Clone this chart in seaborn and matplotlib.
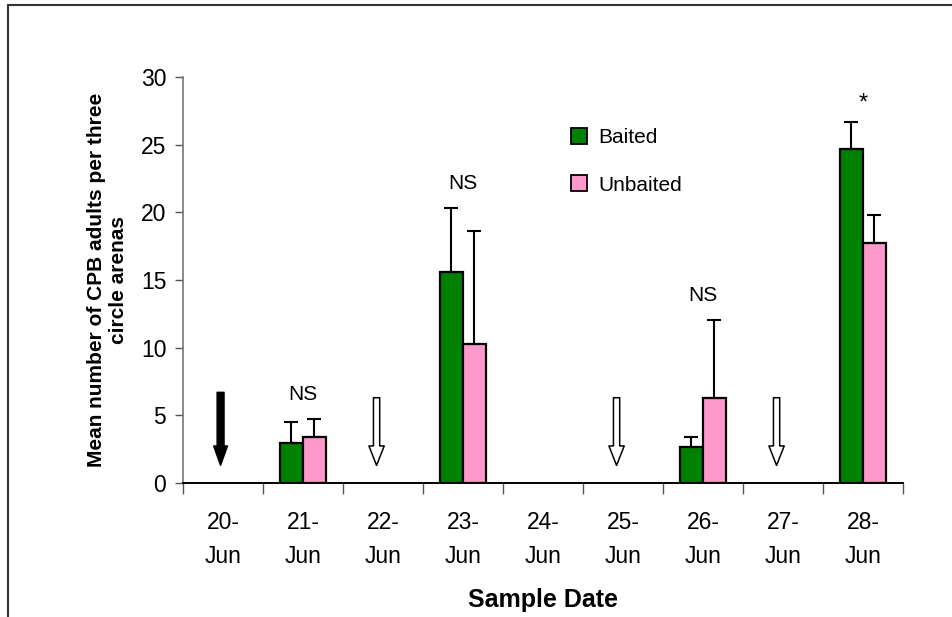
import matplotlib
matplotlib.use("Agg")
import matplotlib.pyplot as plt
from matplotlib.lines import Line2D
from matplotlib.patches import Patch
import seaborn as sns
import pandas as pd

# data
dates = ["20-\nJun", "21-\nJun", "22-\nJun", "23-\nJun", "24-\nJun",
         "25-\nJun", "26-\nJun", "27-\nJun", "28-\nJun"]
baited = [0, 2.93, 0, 15.6, 0, 0, 2.64, 0, 24.66]
baited_err = [0, 1.6, 0, 4.75, 0, 0, 0.74, 0, 2.04]
unbaited = [0, 3.38, 0, 10.3, 0, 0, 6.31, 0, 17.7]
unbaited_err = [0, 1.32, 0, 8.3, 0, 0, 5.76, 0, 2.08]
signif = ["", "NS", "", "NS", "", "", "NS", "", "*"]
arrow_days = [2, 5, 7]   # hollow arrows
release_day = 0          # solid arrow

df = pd.DataFrame({
    "date": dates * 2,
    "mean": baited + unbaited,
    "trt": ["Baited"] * 9 + ["Unbaited"] * 9,
})
colors = {"Baited": "#008000", "Unbaited": "#FF99CC"}

sns.set_style("white")
plt.rcParams["font.family"] = ["Liberation Sans", "DejaVu Sans"]
plt.rcParams["text.color"] = "black"
plt.rcParams["axes.labelcolor"] = "black"
plt.rcParams["xtick.labelcolor"] = "black"
plt.rcParams["ytick.labelcolor"] = "black"

fig = plt.figure(figsize=(9.52, 6.17), dpi=100)
ax = fig.add_axes([0.1922, 0.2172, 0.7563, 0.6580])

sns.barplot(data=df, x="date", y="mean", hue="trt", palette=colors,
            saturation=1, width=0.575, edgecolor="black", linewidth=1.6,
            errorbar=None, legend=False, ax=ax)

# one-sided error bars on top of the bars
bars = ax.patches[:18]
errs = baited_err + unbaited_err
for b, e in zip(bars, errs):
    if b.get_height() == 0:
        b.set_linewidth(0)
    if e > 0:
        xc = b.get_x() + b.get_width() / 2
        ax.errorbar(xc, b.get_height(), yerr=[[0], [e]], fmt="none",
                    ecolor="black", elinewidth=1.5, capsize=5, capthick=1.5)

# significance labels
for i, s in enumerate(signif):
    if s == "*":
        top = max(baited[i] + baited_err[i], unbaited[i] + unbaited_err[i])
        ax.text(i, top + 0.5, s, ha="center", va="bottom", fontsize=17)
    elif s:
        top = max(baited[i] + baited_err[i], unbaited[i] + unbaited_err[i])
        ax.text(i, top + 1.1, s, ha="center", va="bottom", fontsize=15)

# arrows
ax.annotate("", xy=(release_day - 0.03, 1.3), xytext=(release_day - 0.03, 6.7),
            arrowprops=dict(facecolor="black", edgecolor="black", width=5,
                            headwidth=10, headlength=14, lw=1))
for d in arrow_days:
    ax.annotate("", xy=(d - 0.08, 1.3), xytext=(d - 0.08, 6.3),
                arrowprops=dict(facecolor="white", edgecolor="black", width=4.5,
                                headwidth=11, headlength=14, lw=1.1))

ax.set_ylim(0, 30)
ax.set_xlim(-0.5, 8.5)
ax.set_yticks(range(0, 31, 5))
ax.set_xticks(range(9))
ax.set_xticklabels(dates, linespacing=1.65)
ax.set_xticks([i - 0.5 for i in range(10)], minor=True)
ax.tick_params(axis="x", which="major", length=0, pad=20, labelsize=16.5)
ax.tick_params(axis="x", which="minor", length=8, width=1, color="#555555",
               bottom=True)
ax.tick_params(axis="y", length=6, width=1, color="#555555", labelsize=16.5,
               left=True, pad=6)

for s in ["top", "right"]:
    ax.spines[s].set_visible(False)
ax.spines["left"].set_color("#777777")
ax.spines["left"].set_linewidth(1.2)
ax.spines["bottom"].set_color("black")
ax.spines["bottom"].set_linewidth(1.4)

ax.set_xlabel("Sample Date", fontsize=18, fontweight="bold", labelpad=14)
ax.set_ylabel("Mean number of CPB adults per three\ncircle arenas",
              fontsize=15, fontweight="bold", labelpad=9)

handles = [Patch(facecolor=colors[k], edgecolor="black", linewidth=1.3, label=k)
           for k in ["Baited", "Unbaited"]]
ax.legend(handles=handles, loc="upper left", bbox_to_anchor=(0.528, 0.895),
          frameon=False, fontsize=15, handlelength=0.75, handleheight=0.8,
          handletextpad=0.55, labelspacing=1.35, borderaxespad=0)

# outer frame of the original figure
fig.add_artist(Line2D([8 / 952, 1.0], [1 - 5 / 617, 1 - 5 / 617],
                      transform=fig.transFigure, color="#333333", lw=1.5))
fig.add_artist(Line2D([8 / 952, 8 / 952], [0, 1 - 5 / 617],
                      transform=fig.transFigure, color="#333333", lw=1.5))

fig.savefig("out.png", dpi=100)
